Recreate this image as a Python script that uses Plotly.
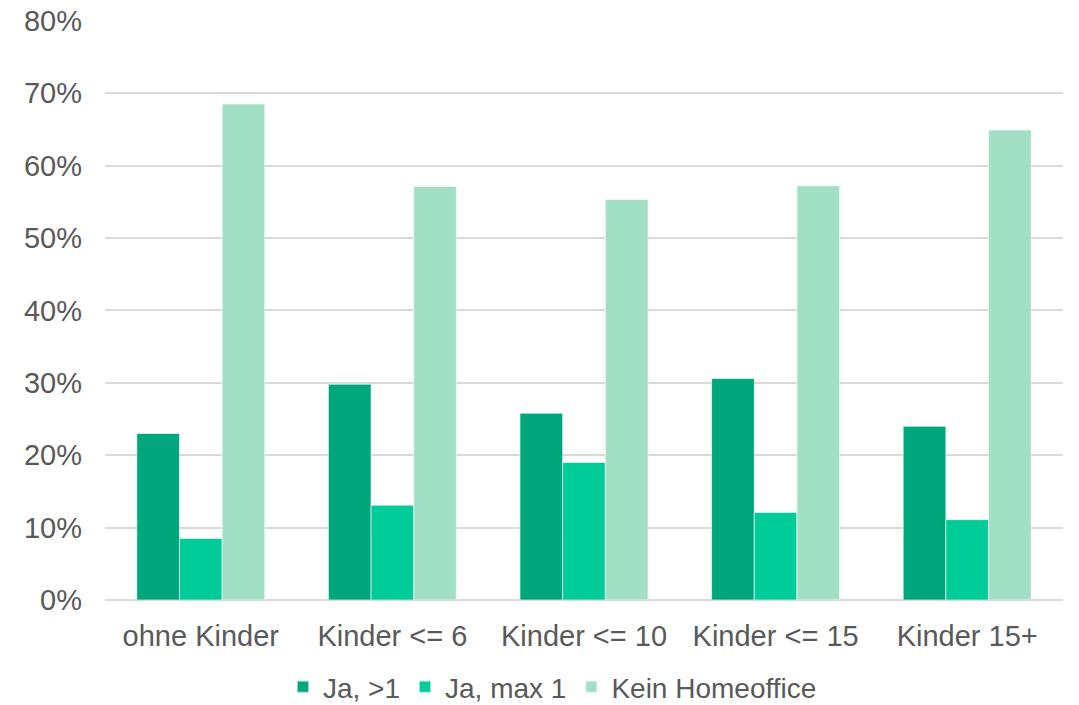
import plotly.graph_objects as go

categories = ["ohne Kinder", "Kinder <= 6", "Kinder <= 10", "Kinder <= 15", "Kinder 15+"]
ja_mehr_als_1 = [23.0, 29.8, 25.8, 30.6, 24.0]
ja_max_1 = [8.5, 13.1, 19.0, 12.1, 11.1]
kein_homeoffice = [68.5, 57.1, 55.3, 57.2, 64.9]

series_names = ["Ja, >1", "Ja, max 1", "Kein Homeoffice"]
series_colors = ["#00A67C", "#00CC99", "#A1E0C5"]
series_values = [ja_mehr_als_1, ja_max_1, kein_homeoffice]

y_ticks = [0, 10, 20, 30, 40, 50, 60, 70, 80]
y_tick_labels = [f"{v}%" for v in y_ticks]

font_family = "Liberation Sans, Arial, sans-serif"
text_color = "#595959"
font_size = 29

fig = go.Figure()
for name, color, values in zip(series_names, series_colors, series_values):
    fig.add_trace(go.Bar(
        x=categories,
        y=values,
        name=name,
        marker=dict(color=color, line=dict(color="rgba(255,255,255,0.6)", width=1)),
    ))

fig.update_layout(
    width=1079,
    height=705,
    margin=dict(l=105, r=16, t=20, b=105, autoexpand=False),
    paper_bgcolor="white",
    plot_bgcolor="white",
    barmode="group",
    bargap=0.332,
    bargroupgap=0,
    font=dict(family=font_family, size=font_size, color=text_color),
    showlegend=True,
    legend=dict(
        orientation="h",
        x=0.512,
        xanchor="center",
        xref="container",
        y=1 - 687 / 705,
        yanchor="middle",
        yref="container",
        tracegroupgap=0,
        itemwidth=30,
        font=dict(family=font_family, size=28, color=text_color),
        itemsizing="constant",
        traceorder="normal",
    ),
    xaxis=dict(
        showgrid=False,
        showline=False,
        zeroline=False,
        ticks="",
        tickfont=dict(size=font_size, color=text_color),
        ticklabelstandoff=16,
        automargin=False,
    ),
    yaxis=dict(
        range=[0, 80.1],
        tickvals=y_ticks,
        ticktext=y_tick_labels,
        showgrid=True,
        gridcolor="#D9D9D9",
        gridwidth=1.5,
        zeroline=True,
        zerolinecolor="#D9D9D9",
        zerolinewidth=1.5,
        showline=False,
        ticks="",
        tickfont=dict(size=font_size, color=text_color),
        ticklabelstandoff=22,
        automargin=False,
    ),
)

fig.write_html("out.html")
